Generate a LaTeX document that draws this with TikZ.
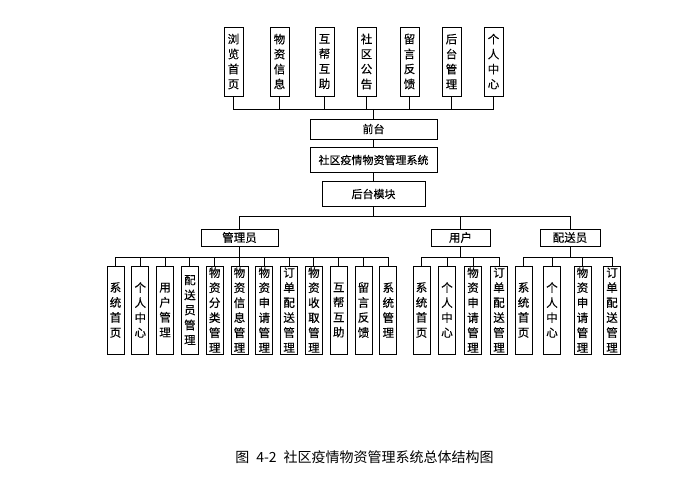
\documentclass[tikz,border=0pt]{standalone}
\usepackage{fontspec}
\newfontfamily\cjk[FakeBold=0.35]{Noto Sans CJK SC}
\newfontfamily\cjkcap{Noto Sans CJK SC}
\usetikzlibrary{calc}
\tikzset{
  base/.style={draw=black, line width=1pt, inner sep=0pt, align=center, font=\cjk\fontsize{11.5}{15}\selectfont},
  topbox/.style={base, minimum width=19pt, minimum height=69pt},
  midbox/.style={base, minimum height=20pt, font=\cjk\fontsize{11}{13}\selectfont},
  rolebox/.style={base, minimum height=17pt, font=\cjk\fontsize{11.5}{13}\selectfont},
  leafbox/.style={base, minimum width=17pt, minimum height=88pt},
  conn/.style={line width=1pt, black},
}
\begin{document}
\begin{tikzpicture}[x=1pt,y=-1pt]
\useasboundingbox[fill=white] (0,0) rectangle (684,485);
% top row
\node[topbox] (t1) at (233.5,61.5) {浏\\览\\首\\页};
\node[topbox] (t2) at (279.5,61.5) {物\\资\\信\\息};
\node[topbox] (t3) at (324.5,61.5) {互\\帮\\互\\助};
\node[topbox] (t4) at (366.5,61.5) {社\\区\\公\\告};
\node[topbox] (t5) at (409.5,61.5) {留\\言\\反\\馈};
\node[topbox] (t6) at (451.5,61.5) {后\\台\\管\\理};
\node[topbox] (t7) at (493.5,61.5) {个\\人\\中\\心};
% middle
\node[midbox, minimum width=127pt] (qt) at (373.5,129) {前台};
\node[midbox, minimum width=127pt, minimum height=25pt] (sys) at (373.5,160) {社区疫情物资管理系统};
\node[midbox, minimum width=103pt, minimum height=25pt] (ht) at (373.5,194) {后台模块};
% roles
\node[rolebox, minimum width=77pt] (gl) at (239.5,237.5) {管理员};
\node[rolebox, minimum width=59pt] (yh) at (460.5,237.5) {用户};
\node[rolebox, minimum width=60pt] (ps) at (570,237.5) {配送员};
% admin leaves
\node[leafbox] (a1) at (115.5,310) {系\\统\\首\\页};
\node[leafbox] (a2) at (140.3,310) {个\\人\\中\\心};
\node[leafbox] (a3) at (165.1,310) {用\\户\\管\\理};
\node[leafbox] (a4) at (189.9,310) {配\\送\\员\\管\\理};
\node[leafbox] (a5) at (214.7,310) {物\\资\\分\\类\\管\\理};
\node[leafbox] (a6) at (239.5,310) {物\\资\\信\\息\\管\\理};
\node[leafbox] (a7) at (264.3,310) {物\\资\\申\\请\\管\\理};
\node[leafbox] (a8) at (289.1,310) {订\\单\\配\\送\\管\\理};
\node[leafbox] (a9) at (313.9,310) {物\\资\\收\\取\\管\\理};
\node[leafbox] (a10) at (338.7,310) {互\\帮\\互\\助};
\node[leafbox] (a11) at (363.5,310) {留\\言\\反\\馈};
\node[leafbox] (a12) at (388.3,310) {系\\统\\管\\理};
% user leaves
\node[leafbox] (u1) at (421.5,310) {系\\统\\首\\页};
\node[leafbox] (u2) at (447,310) {个\\人\\中\\心};
\node[leafbox] (u3) at (473,310) {物\\资\\申\\请\\管\\理};
\node[leafbox] (u4) at (499,310) {订\\单\\配\\送\\管\\理};
% delivery leaves
\node[leafbox] (p1) at (523.5,310) {系\\统\\首\\页};
\node[leafbox] (p2) at (552,310) {个\\人\\中\\心};
\node[leafbox] (p3) at (582.5,310) {物\\资\\申\\请\\管\\理};
\node[leafbox] (p4) at (612,310) {订\\单\\配\\送\\管\\理};
% caption
\node[inner sep=0pt, font=\cjkcap\fontsize{14}{16}\selectfont] (cap) at (364.5,457) {图\hspace{7pt}4-2\hspace{7pt}社区疫情物资管理系统总体结构图};
% connectors
\foreach \t in {t1,t2,t3,t4,t5,t6,t7}
  \draw[conn] (\t.south) |- ($(qt.north)+(0,-9)$) -- (qt.north);
\draw[conn] (qt) -- (sys);
\draw[conn] (sys) -- (ht);
\foreach \r in {gl,yh,ps}
  \draw[conn] (ht.south) |- ($(\r.north)+(0,-12)$) -- (\r.north);
\foreach \c in {a1,a2,a3,a4,a5,a6,a7,a8,a9,a10,a11,a12}
  \draw[conn] (gl.south) |- ($(\c.north)+(0,-8)$) -- (\c.north);
\foreach \c in {u1,u2,u3,u4}
  \draw[conn] (yh.south) |- ($(\c.north)+(0,-8)$) -- (\c.north);
\foreach \c in {p1,p2,p3,p4}
  \draw[conn] (ps.south) |- ($(\c.north)+(0,-8)$) -- (\c.north);
\end{tikzpicture}
\end{document}
